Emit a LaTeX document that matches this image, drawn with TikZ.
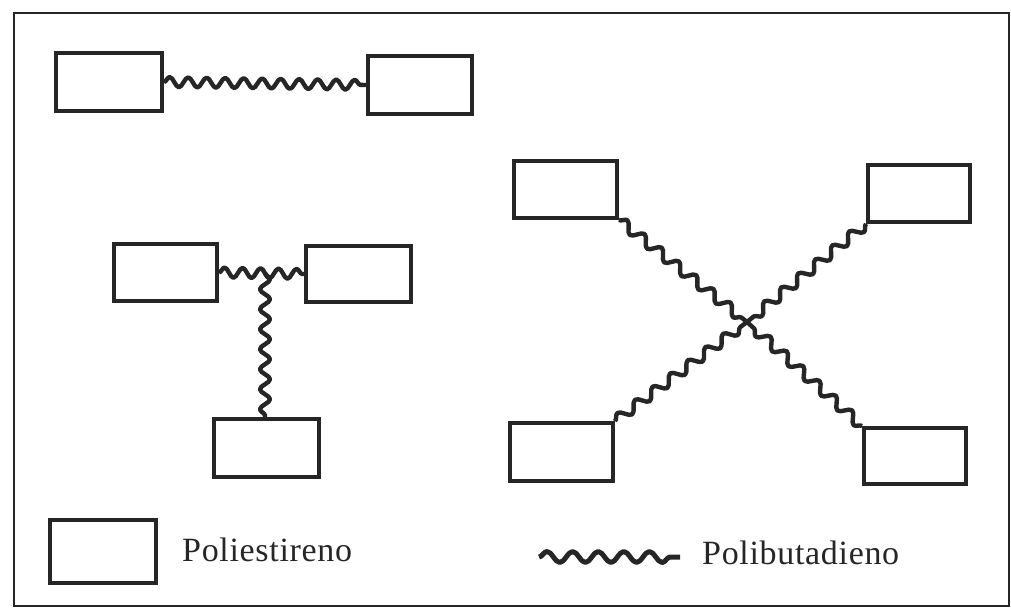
\documentclass[tikz,border=0pt]{standalone}
\usepackage{fontspec}
\setmainfont{Liberation Serif}
\newfontfamily\legfont[LetterSpace=2]{Liberation Serif}
\usetikzlibrary{decorations.pathmorphing}
\tikzset{
  psbox/.style={draw=black!85, line width=3.8pt, minimum width=104pt, minimum height=57pt, inner sep=0pt},
  wavy/.style={draw=black!85, line width=4.4pt, line join=round, decorate, decoration={snake, segment length=22pt, amplitude=5pt}},
  legwavy/.style={draw=black!85, line width=5pt, line join=round, decorate, decoration={snake, segment length=25.6pt, amplitude=5.5pt}},
  legtext/.style={font=\legfont\fontsize{34}{40}\selectfont, text=black!85, inner sep=0pt, anchor=base west},
  frame/.style={draw=black!85, line width=2.2pt}
}
\begin{document}
\begin{tikzpicture}[x=1pt, y=-1pt]
\useasboundingbox (0,0) rectangle (1011,612);
\draw[frame] (14,13) rectangle (1009,606);
% top chain
\node[psbox, minimum width=106pt, minimum height=58pt] (A) at (109,82) {};
\node[psbox, minimum height=58pt] (B) at (420,85) {};
\draw[wavy, decoration={segment length=18.5pt}] (A.east) -- (B.west);
% T shape
\node[psbox, minimum width=103pt] (C) at (165.5,272.5) {};
\node[psbox, minimum width=105pt, minimum height=56pt] (D) at (358.5,274) {};
\node[psbox, minimum width=105pt, minimum height=58pt] (E) at (266.5,448) {};
\coordinate (J) at (265,273);
\draw[wavy, decoration={segment length=18pt}] (C.east) -- (D.west);
\draw[wavy, decoration={segment length=20pt}] (J) -- (E.north -| J);
% X shape
\node[psbox, minimum width=103pt] (F) at (565.5,189.5) {};
\node[psbox, minimum width=102pt] (G) at (919,193.5) {};
\node[psbox, minimum width=103pt, minimum height=58pt] (H) at (561.5,452) {};
\node[psbox, minimum width=102pt, minimum height=56pt] (I) at (915,456) {};
\coordinate (X) at (747,322);
\draw[wavy] (F.south east) -- (X);
\draw[wavy] (G.south west) -- (X);
\draw[wavy] (H.north east) -- (X);
\draw[wavy] (I.north west) -- (X);
% legend
\node[psbox, minimum width=106pt, minimum height=63pt] (L) at (103,551.5) {};
\node[legtext] (Lt) at (182,561) {Poliestireno};
\coordinate (W1) at (539,557);
\coordinate (W2) at (680,557);
\draw[legwavy] (W1) -- (W2);
\node[legtext] (Wt) at (702,564) {Polibutadieno};
\end{tikzpicture}
\end{document}
